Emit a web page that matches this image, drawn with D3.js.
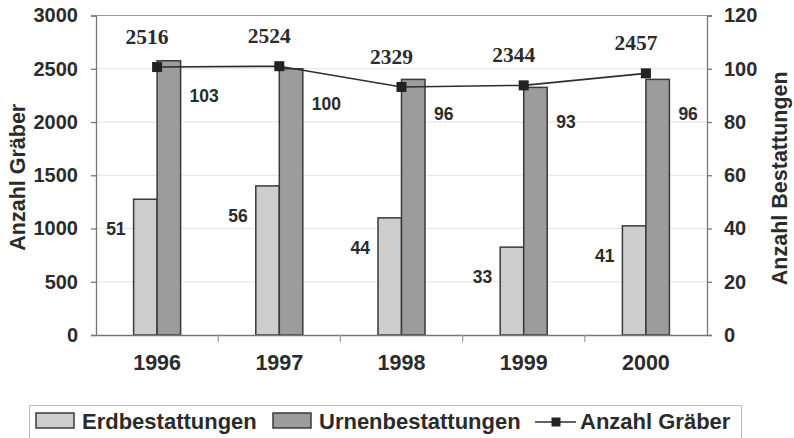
<!DOCTYPE html>
<html>
<head>
<meta charset="utf-8">
<script src="https://cdn.jsdelivr.net/npm/d3@7"></script>
<style>
  html, body { margin: 0; padding: 0; background: #fff; }
  svg { display: block; }
</style>
</head>
<body>
<svg id="chart" width="794" height="438"></svg>
<script>
const years = ["1996", "1997", "1998", "1999", "2000"];
const erdbestattungen = [51, 56, 44, 33, 41];
const urnenbestattungen = [103, 100, 96, 93, 96];
const anzahlGraeber = [2516, 2524, 2329, 2344, 2457];
const leftTicks = [0, 500, 1000, 1500, 2000, 2500, 3000];
const rightTicks = [0, 20, 40, 60, 80, 100, 120];

const svg = d3.select("#chart");
const ink = "#2b2b2b";
const sans = "'Liberation Sans', Arial, sans-serif";
const serif = "'Liberation Serif', 'Times New Roman', serif";

const plotLeft = 96, plotRight = 707, plotTop = 15.5, plotBottom = 335;

const x = d3.scaleBand().domain(years).range([plotLeft, plotRight]);
const sub = d3.scaleBand().domain(["erd", "urn"]).range([0, 47]);
const yL = d3.scaleLinear().domain([0, 3000]).range([plotBottom, plotTop]);
const yR = d3.scaleLinear().domain([0, 120]).range([plotBottom, plotTop]);
const cx = d => x(d) + x.bandwidth() / 2;
const gx = d => cx(d) - 23.5;

// gridlines
svg.append("g").selectAll("line")
  .data(leftTicks.slice(1))
  .join("line")
  .attr("x1", plotLeft).attr("x2", plotRight)
  .attr("y1", d => yL(d)).attr("y2", d => yL(d))
  .attr("stroke", d => d === 3000 ? "#9a9a9a" : "#e2e2e2")
  .attr("stroke-width", 1.2);

// bars
const bars = svg.append("g");
bars.selectAll("rect.erd")
  .data(years)
  .join("rect")
  .attr("class", "erd")
  .attr("x", d => gx(d) + sub("erd"))
  .attr("width", sub.bandwidth())
  .attr("y", (d, i) => yR(erdbestattungen[i]))
  .attr("height", (d, i) => plotBottom - yR(erdbestattungen[i]))
  .attr("fill", "#cdcdcd")
  .attr("stroke", "#3a3a3a")
  .attr("stroke-width", 1.5);
bars.selectAll("rect.urn")
  .data(years)
  .join("rect")
  .attr("class", "urn")
  .attr("x", d => gx(d) + sub("urn"))
  .attr("width", sub.bandwidth())
  .attr("y", (d, i) => yR(urnenbestattungen[i]))
  .attr("height", (d, i) => plotBottom - yR(urnenbestattungen[i]))
  .attr("fill", "#9c9c9c")
  .attr("stroke", "#3a3a3a")
  .attr("stroke-width", 1.5);

// axes
const axisL = svg.append("g")
  .attr("transform", `translate(${plotLeft},0)`)
  .call(d3.axisLeft(yL).tickValues(leftTicks).tickFormat(d3.format("d"))
    .tickSize(5).tickPadding(13));
const axisR = svg.append("g")
  .attr("transform", `translate(${plotRight},0)`)
  .call(d3.axisRight(yR).tickValues(rightTicks).tickSize(5).tickPadding(12));
const axisX = svg.append("g")
  .attr("transform", `translate(0,${plotBottom})`)
  .call(d3.axisBottom(x).tickSize(0).tickPadding(20));

[axisL, axisR, axisX].forEach(a => {
  a.select(".domain").attr("stroke", "#777").attr("stroke-width", 1.3);
  a.selectAll(".tick line").attr("stroke", "#777").attr("stroke-width", 1.3);
  a.selectAll("text")
    .attr("fill", ink)
    .attr("font-family", sans)
    .attr("font-weight", "bold")
    .attr("font-size", 20);
});
axisX.selectAll("text").attr("font-size", 21.5);

// category separators on the x axis
svg.append("g").selectAll("line")
  .data(years.slice(1))
  .join("line")
  .attr("x1", d => x(d)).attr("x2", d => x(d))
  .attr("y1", plotBottom).attr("y2", plotBottom + 7)
  .attr("stroke", "#999").attr("stroke-width", 1.2);

// line series
const line = d3.line()
  .x(d => cx(d.year))
  .y(d => yL(d.value));
const pts = years.map((year, i) => ({ year, value: anzahlGraeber[i] }));

svg.append("path")
  .datum(pts)
  .attr("d", line)
  .attr("fill", "none")
  .attr("stroke", "#2e2e2e")
  .attr("stroke-width", 1.6);

svg.append("g").selectAll("rect")
  .data(pts)
  .join("rect")
  .attr("x", d => cx(d.year) - 5)
  .attr("y", d => yL(d.value) - 5)
  .attr("width", 10).attr("height", 10)
  .attr("fill", "#222");

// value labels
svg.append("g").selectAll("text")
  .data(pts)
  .join("text")
  .attr("x", d => cx(d.year) - 10)
  .attr("y", d => yL(d.value) - 23)
  .attr("text-anchor", "middle")
  .attr("font-family", serif)
  .attr("font-weight", "bold")
  .attr("font-size", 21.5)
  .attr("fill", ink)
  .text(d => d.value);

svg.append("g").selectAll("text")
  .data(years)
  .join("text")
  .attr("x", d => gx(d) - 8)
  .attr("y", (d, i) => yR(erdbestattungen[i]) + 36)
  .attr("text-anchor", "end")
  .attr("font-family", sans)
  .attr("font-weight", "bold")
  .attr("font-size", 17.5)
  .attr("fill", ink)
  .text((d, i) => erdbestattungen[i]);

svg.append("g").selectAll("text")
  .data(years)
  .join("text")
  .attr("x", d => gx(d) + 47 + 9)
  .attr("y", (d, i) => yR(urnenbestattungen[i]) + 41)
  .attr("text-anchor", "start")
  .attr("font-family", sans)
  .attr("font-weight", "bold")
  .attr("font-size", 17.5)
  .attr("fill", ink)
  .text((d, i) => urnenbestattungen[i]);

// axis titles
svg.append("text")
  .attr("transform", `translate(25,${(plotTop + plotBottom) / 2 + 2}) rotate(-90)`)
  .attr("text-anchor", "middle")
  .attr("font-family", sans)
  .attr("font-weight", "bold")
  .attr("font-size", 21.5)
  .attr("fill", ink)
  .text("Anzahl Gräber");

svg.append("text")
  .attr("transform", `translate(787,${(plotTop + plotBottom) / 2 + 3}) rotate(-90)`)
  .attr("text-anchor", "middle")
  .attr("font-family", sans)
  .attr("font-weight", "bold")
  .attr("font-size", 21.5)
  .attr("fill", ink)
  .text("Anzahl Bestattungen");

// legend
const legend = svg.append("g");
legend.append("rect")
  .attr("x", 29.5).attr("y", 405.5)
  .attr("width", 712).attr("height", 36)
  .attr("fill", "#fff")
  .attr("stroke", "#bdbdbd").attr("stroke-width", 1);

const legendItems = [
  { label: "Erdbestattungen", fill: "#cdcdcd", x: 36 },
  { label: "Urnenbestattungen", fill: "#9c9c9c", x: 273 }
];
legend.selectAll("rect.sw")
  .data(legendItems)
  .join("rect")
  .attr("class", "sw")
  .attr("x", d => d.x).attr("y", 413)
  .attr("width", 38).attr("height", 15)
  .attr("fill", d => d.fill)
  .attr("stroke", "#3a3a3a").attr("stroke-width", 1.5);
legend.selectAll("text.lab")
  .data(legendItems)
  .join("text")
  .attr("class", "lab")
  .attr("x", d => d.x + 46).attr("y", 428.5)
  .attr("font-family", sans)
  .attr("font-weight", "bold")
  .attr("font-size", 22)
  .attr("fill", ink)
  .text(d => d.label);

legend.append("line")
  .attr("x1", 535).attr("x2", 576)
  .attr("y1", 422).attr("y2", 422)
  .attr("stroke", "#2e2e2e").attr("stroke-width", 1.6);
legend.append("rect")
  .attr("x", 551.5).attr("y", 417.5)
  .attr("width", 9).attr("height", 9)
  .attr("fill", "#222");
legend.append("text")
  .attr("x", 580).attr("y", 428.5)
  .attr("font-family", sans)
  .attr("font-weight", "bold")
  .attr("font-size", 22)
  .attr("fill", ink)
  .text("Anzahl Gräber");
</script>
</body>
</html>
